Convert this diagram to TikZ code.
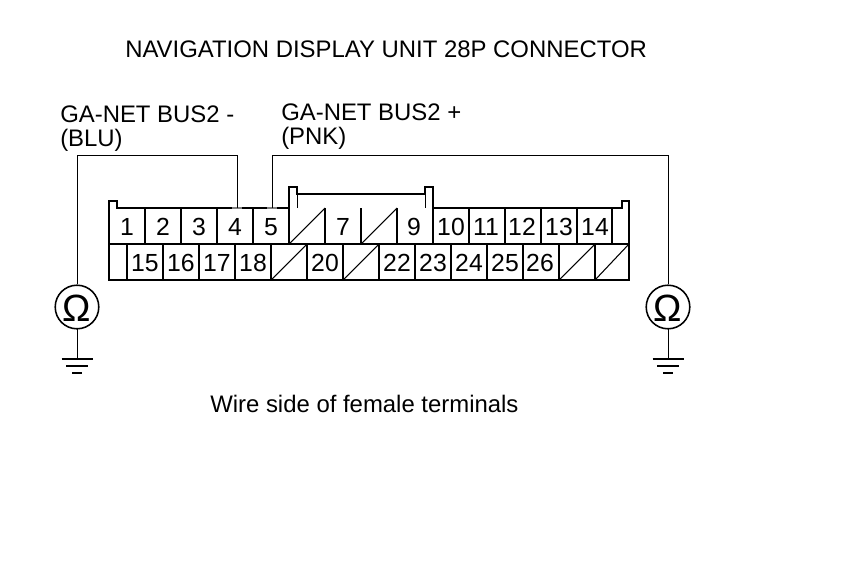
\documentclass[tikz,border=0pt]{standalone}
\usepackage{fontspec}
\setmainfont{Liberation Sans}
\tikzset{
    pin/.style={inner sep=0pt, anchor=base, font=\fontsize{17.6}{17.6}\selectfont},
    caption/.style={inner sep=0pt, anchor=base west, font=\fontsize{17}{17}\selectfont},
    shell/.style={line width=1.7pt, line join=miter},
    thin wire/.style={line width=0.6pt},
    divider/.style={line width=0.75pt},
    ohmring/.style={draw, circle, line width=1.1pt, minimum size=31pt, inner sep=0pt},
    ohmsign/.style={inner sep=0pt, font=\fontsize{27}{27}\selectfont},
    groundbar/.style={line width=1.3pt},
    groundtop/.style={line width=1.9pt}
}
\begin{document}
\begin{tikzpicture}[x=0.025cm,y=-0.025cm]
    \useasboundingbox (0,0) rectangle (860,577);

    % Titles and wire names
    \node[caption] (title) at (125,58) {NAVIGATION DISPLAY UNIT 28P CONNECTOR};
    \node[caption] (busminus) at (60,123) {GA-NET BUS2 -};
    \node[caption] (blu) at (60,147) {(BLU)};
    \node[caption] (busplus) at (281,121) {GA-NET BUS2 +};
    \node[caption] (pnk) at (281,145) {(PNK)};
    \node[caption] (side) at (210,412) {Wire side of female terminals};

    % Draw the partitions
    \draw[divider] (109,244) -- (629,244);
    \draw[divider] (145,208) -- (145,244);
    \draw[divider] (181,208) -- (181,244);
    \draw[divider] (217,208) -- (217,244);
    \draw[divider] (253,208) -- (253,244);
    \draw[divider] (289,208) -- (289,244);
    \draw[divider] (325,208) -- (325,244);
    \draw[divider] (361,208) -- (361,244);
    \draw[divider] (397,208) -- (397,244);
    \draw[divider] (433,208) -- (433,244);
    \draw[divider] (469,208) -- (469,244);
    \draw[divider] (505,208) -- (505,244);
    \draw[divider] (541,208) -- (541,244);
    \draw[divider] (577,208) -- (577,244);
    \draw[divider] (612,208) -- (612,244);
    \draw[divider] (127,244) -- (127,280);
    \draw[divider] (163,244) -- (163,280);
    \draw[divider] (199,244) -- (199,280);
    \draw[divider] (235,244) -- (235,280);
    \draw[divider] (271,244) -- (271,280);
    \draw[divider] (307,244) -- (307,280);
    \draw[divider] (343,244) -- (343,280);
    \draw[divider] (379,244) -- (379,280);
    \draw[divider] (415,244) -- (415,280);
    \draw[divider] (451,244) -- (451,280);
    \draw[divider] (487,244) -- (487,280);
    \draw[divider] (523,244) -- (523,280);
    \draw[divider] (559,244) -- (559,280);
    \draw[divider] (595,244) -- (595,280);
    \draw[thin wire] (297,194) -- (297,208);
    \draw[thin wire] (425,194) -- (425,208);

    % Unused cavities
    \draw[divider] (289,244) -- (325,208);
    \draw[divider] (361,244) -- (397,208);
    \draw[divider] (271,280) -- (307,244);
    \draw[divider] (343,280) -- (379,244);
    \draw[divider] (559,280) -- (595,244);
    \draw[divider] (595,280) -- (629,244);

    % Draw the connector shell
    \draw[shell] (109,280) -- (109,201) -- (117,201) -- (117,208) -- (289,208)
        -- (289,187) -- (297,187) -- (297,194) -- (425,194) -- (425,187)
        -- (433,187) -- (433,208) -- (622,208) -- (622,201) -- (629,201)
        -- (629,280) -- cycle;

    % Add labels inside the cells
    \node[pin] (p1) at (127,235) {1};
    \node[pin] (p2) at (163,235) {2};
    \node[pin] (p3) at (199,235) {3};
    \node[pin] (p4) at (235,235) {4};
    \node[pin] (p5) at (271,235) {5};
    \node[pin] (p7) at (343,235) {7};
    \node[pin] (p9) at (414,235) {9};
    \node[pin] (p10) at (451,235) {10};
    \node[pin] (p11) at (486,235) {11};
    \node[pin] (p12) at (522,235) {12};
    \node[pin] (p13) at (559,235) {13};
    \node[pin] (p14) at (595,235) {14};
    \node[pin] (p15) at (145,271) {15};
    \node[pin] (p16) at (181,271) {16};
    \node[pin] (p17) at (217,271) {17};
    \node[pin] (p18) at (253,271) {18};
    \node[pin] (p20) at (325,271) {20};
    \node[pin] (p22) at (397,271) {22};
    \node[pin] (p23) at (433,271) {23};
    \node[pin] (p24) at (469,271) {24};
    \node[pin] (p25) at (505,271) {25};
    \node[pin] (p26) at (540,271) {26};

    % Meters
    \node[ohmring] (ohmleft) at (77,307) {};
    \node[ohmsign] (signleft) at (77,308) {Ω};
    \node[ohmring] (ohmright) at (668,307) {};
    \node[ohmsign] (signright) at (668,308) {Ω};

    % Draw wires
    \coordinate (entry4) at (237,208);
    \coordinate (entry5) at (272,208);
    \draw[gray, line width=1.7pt] (232,208) -- (242,208);
    \draw[gray, line width=1.7pt] (267,208) -- (277,208);
    \draw[thin wire] (entry4) -- ++(0,-53) -| (ohmleft.north);
    \draw[thin wire] (entry5) -- ++(0,-53) -| (ohmright.north);

    % Ground symbols
    \coordinate (gndleft) at (77,359);
    \coordinate (gndright) at (668,359);
    \draw[thin wire] (ohmleft) ++(0,22) -- (gndleft);
    \draw[thin wire] (ohmright) ++(0,22) -- (gndright);
    \draw[groundtop] (gndleft) ++(-15.5,0) -- ++(31,0);
    \draw[groundbar] (gndleft) ++(-11,7) -- ++(22,0);
    \draw[groundbar] (gndleft) ++(-5,14) -- ++(10,0);
    \draw[groundtop] (gndright) ++(-15.5,0) -- ++(31,0);
    \draw[groundbar] (gndright) ++(-11,7) -- ++(22,0);
    \draw[groundbar] (gndright) ++(-5,14) -- ++(10,0);
\end{tikzpicture}
\end{document}
